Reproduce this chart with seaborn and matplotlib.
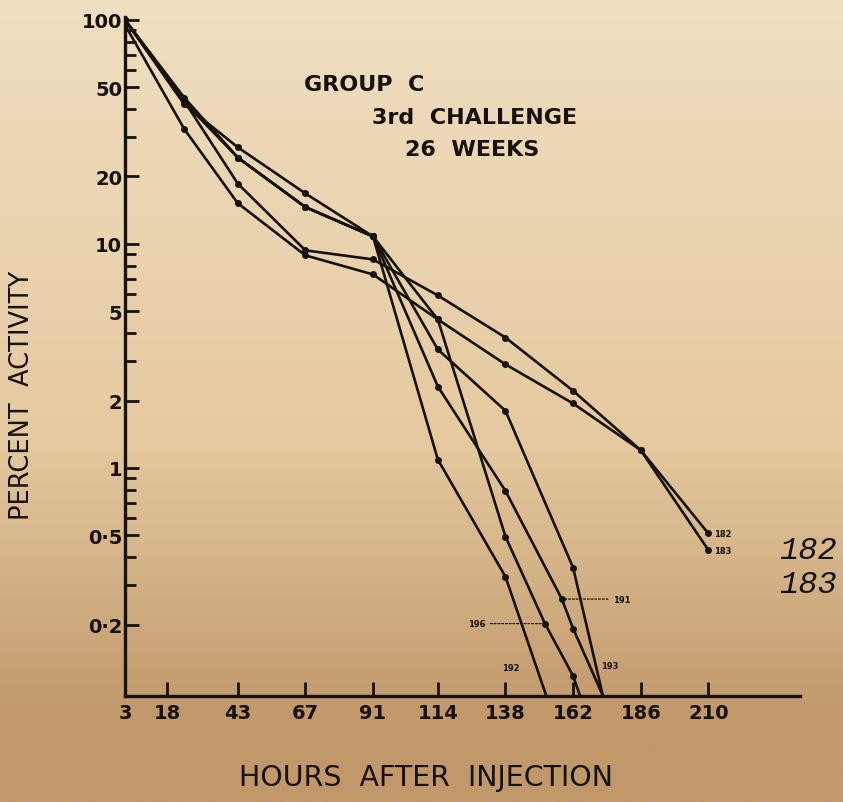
import numpy as np
import pandas as pd
import matplotlib
matplotlib.use("Agg")
import matplotlib.pyplot as plt
import seaborn as sns
from matplotlib.ticker import FixedLocator, FixedFormatter, LogLocator, NullFormatter

# Hours after injection at which each animal was counted
hours_182 = [3, 24, 43, 67, 91, 114, 138, 162, 186, 210]
act_182 = [100, 43.5, 18.6, 9.36, 8.53, 5.89, 3.82, 2.21, 1.20, 0.51]
hours_183 = [3, 24, 43, 67, 91, 114, 138, 162, 186, 210]
act_183 = [95, 32.6, 15.2, 8.89, 7.31, 4.60, 2.90, 1.94, 1.20, 0.43]
hours_191 = [3, 24, 43, 67, 91, 114, 138, 158, 162, 186]
act_191 = [100, 45, 24.3, 14.6, 10.8, 2.31, 0.79, 0.26, 0.192, 0.040]
hours_192 = [3, 24, 43, 67, 91, 114, 138, 162]
act_192 = [100, 44, 24.3, 14.6, 10.8, 1.09, 0.327, 0.043]
hours_193 = [3, 24, 43, 67, 91, 114, 138, 162, 186]
act_193 = [100, 43, 24.3, 14.6, 10.8, 3.38, 1.80, 0.359, 0.018]
hours_196 = [3, 24, 43, 67, 91, 114, 138, 152, 162, 186]
act_196 = [100, 42, 27.0, 16.8, 10.8, 4.60, 0.494, 0.202, 0.118, 0.016]

x_ticks = [3, 18, 43, 67, 91, 114, 138, 162, 186, 210]
y_ticks = [100, 50, 20, 10, 5, 2, 1, 0.5, 0.2]
y_tick_labels = ["100", "50", "20", "10", "5", "2", "1", "0·5", "0·2"]

series = {
    "182": (hours_182, act_182),
    "183": (hours_183, act_183),
    "191": (hours_191, act_191),
    "192": (hours_192, act_192),
    "193": (hours_193, act_193),
    "196": (hours_196, act_196),
}
df = pd.concat(
    [pd.DataFrame({"hour": h, "activity": a, "animal": k}) for k, (h, a) in series.items()],
    ignore_index=True,
)

sns.set_style("ticks")
plt.rcParams["font.family"] = ["DejaVu Sans"]

W, H = 843, 803
fig = plt.figure(figsize=(W / 100, H / 100), dpi=100)
ink = "#16110b"

# aged paper backdrop: light at the top, browner towards the bottom
bg = fig.add_axes([0, 0, 1, 1], zorder=-10)
t = np.linspace(0, 1, 400)[:, None]
top = np.array([240, 223, 193]) / 255
mid = np.array([229, 201, 160]) / 255
bot = np.array([192, 152, 106]) / 255
w = np.clip((t - 0.55) / 0.35, 0, 1)
grad = np.where(t < 0.55, top + (mid - top) * (t / 0.55), mid + (bot - mid) * w)
img = np.repeat(grad[:, None, :], 2, axis=1).reshape(400, 2, 3)
bg.imshow(img, aspect="auto", extent=[0, 1, 0, 1], origin="upper")
bg.axis("off")

ax = fig.add_axes([125 / W, 106 / H, 675 / W, 679 / H])
ax.set_facecolor("none")
ax.set_yscale("log")

sns.lineplot(
    data=df, x="hour", y="activity", hue="animal",
    palette={k: ink for k in series}, estimator=None, legend=False,
    marker="o", markersize=5, markeredgewidth=0, linewidth=1.9, ax=ax,
)

ax.set_xlim(3, 242.5)
ax.set_ylim(0.096, 103)
ax.xaxis.set_major_locator(FixedLocator(x_ticks))
ax.set_xticklabels([str(v) for v in x_ticks])
ax.yaxis.set_major_locator(FixedLocator(y_ticks))
ax.yaxis.set_major_formatter(FixedFormatter(y_tick_labels))
ax.yaxis.set_minor_locator(LogLocator(base=10, subs=np.arange(2, 10)))
ax.yaxis.set_minor_formatter(NullFormatter())

for s in ["top", "right"]:
    ax.spines[s].set_visible(False)
for s in ["left", "bottom"]:
    ax.spines[s].set_linewidth(2.4)
    ax.spines[s].set_color(ink)

ax.tick_params(axis="x", which="major", direction="in", length=10, width=2, color=ink,
               labelsize=14, pad=5, labelcolor=ink)
ax.tick_params(axis="y", which="major", direction="in", length=10, width=2, color=ink,
               labelsize=14, pad=2, labelcolor=ink)
ax.tick_params(axis="y", which="minor", direction="in", length=8, width=2, color=ink)
for lab in ax.get_xticklabels() + ax.get_yticklabels():
    lab.set_fontweight("bold")
ax.set_xlabel("")
ax.set_ylabel("")

# animal numbers next to the curves
small = dict(fontsize=6, fontweight="bold", color=ink)
ax.annotate("182", xy=(hours_182[-1], act_182[-1]), xytext=(4, 0),
            textcoords="offset points", va="center", ha="left", **small)
ax.annotate("183", xy=(hours_183[-1], act_183[-1]), xytext=(4, 0),
            textcoords="offset points", va="center", ha="left", **small)
ax.annotate("191", xy=(hours_191[7], act_191[7]), xytext=(176, act_191[7]),
            va="center", ha="left",
            arrowprops=dict(arrowstyle="-", linestyle=(0, (1.5, 1.5)), lw=0.9, color=ink,
                            shrinkA=1, shrinkB=2), **small)
ax.annotate("196", xy=(hours_196[7], act_196[7]), xytext=(131, act_196[7]),
            va="center", ha="right",
            arrowprops=dict(arrowstyle="-", linestyle=(0, (1.5, 1.5)), lw=0.9, color=ink,
                            shrinkA=1, shrinkB=2), **small)
ax.text(140, 0.129, "192", ha="center", va="center", **small)
ax.text(175, 0.131, "193", ha="center", va="center", **small)

# headings and axis titles
head = dict(fontsize=16, fontweight="bold", color=ink, ha="center", va="center")
fig.text(364 / W, 1 - 85 / H, "GROUP  C", **head)
fig.text(475 / W, 1 - 118 / H, "3rd  CHALLENGE", **head)
fig.text(472 / W, 1 - 150 / H, "26  WEEKS", **head)

fig.text(22 / W, 1 - 395 / H, "PERCENT  ACTIVITY", rotation=90, fontsize=18.5,
         color=ink, ha="center", va="center")
fig.text(426 / W, 1 - 778 / H, "HOURS  AFTER  INJECTION", fontsize=20.5,
         color=ink, ha="center", va="center")

big = dict(fontsize=23, style="italic", family=["Liberation Mono", "DejaVu Sans Mono"],
           color=ink, ha="center", va="center")
fig.text(808 / W, 1 - 551 / H, "182", **big)
fig.text(808 / W, 1 - 585 / H, "183", **big)

fig.savefig("out.png", dpi=100)
